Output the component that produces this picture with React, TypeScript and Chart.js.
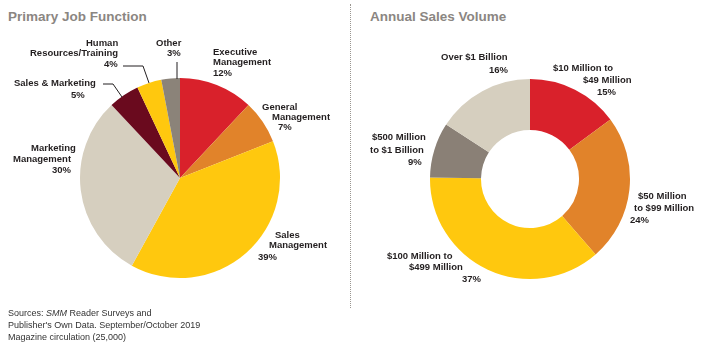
import React, { useEffect, useRef } from "react";
import { Chart, registerables } from "chart.js";

Chart.register(...registerables);

// ---- Data ----
const jobCategories = [
  "Executive Management",
  "General Management",
  "Sales Management",
  "Marketing Management",
  "Sales & Marketing",
  "Human Resources/Training",
  "Other",
];
const jobValues = [12, 7, 39, 30, 5, 4, 3];
const jobColors = ["#D9212B", "#E1832A", "#FFC80E", "#D6CFBF", "#6A0A1E", "#FFC80E", "#8B8379"];

const salesCategories = [
  "$10 Million to $49 Million",
  "$50 Million to $99 Million",
  "$100 Million to $499 Million",
  "$500 Million to $1 Billion",
  "Over $1 Billion",
];
const salesValues = [15, 24, 37, 9, 16];
const salesColors = ["#D9212B", "#E1832A", "#FFC80E", "#8A8076", "#D6CFBF"];

const FONT = "'Liberation Sans', Arial, sans-serif";

function Doughnut({ labels, values, colors, cutout, left, top, size }: any) {
  const ref = useRef<HTMLCanvasElement>(null);
  useEffect(() => {
    const chart = new Chart(ref.current as HTMLCanvasElement, {
      type: "doughnut",
      data: {
        labels,
        datasets: [{ data: values, backgroundColor: colors, borderWidth: 0, hoverOffset: 0 }],
      },
      options: {
        responsive: false,
        animation: false,
        cutout,
        rotation: 0,
        layout: { padding: 2 },
        plugins: { legend: { display: false }, tooltip: { enabled: false } },
        events: [],
      },
    });
    return () => chart.destroy();
  }, []);
  return (
    <canvas
      ref={ref}
      width={size}
      height={size}
      style={{ position: "absolute", left, top, width: size, height: size }}
    />
  );
}

type LineSpec = { t: string; x: number; y: number };

function Label({ lines }: { lines: LineSpec[] }) {
  return (
    <>
      {lines.map((l, i) => (
        <div
          key={i}
          style={{
            position: "absolute",
            left: l.x,
            top: l.y - 6,
            height: 12,
            lineHeight: "12px",
            fontSize: 9.5,
            fontWeight: "bold",
            color: "#231F20",
            whiteSpace: "nowrap",
          }}
        >
          {l.t}
        </div>
      ))}
    </>
  );
}

const pct = (v: number) => `${v}%`;

export default function App() {
  return (
    <div
      style={{
        position: "fixed",
        left: 0,
        top: 0,
        width: 707,
        height: 352,
        background: "#fff",
        fontFamily: FONT,
        overflow: "hidden",
      }}
    >
      {/* Titles */}
      <div style={{ position: "absolute", left: 8, top: 7, lineHeight: "20px", fontSize: 13.5, fontWeight: "bold", color: "#8B8682", whiteSpace: "nowrap" }}>
        Primary Job Function
      </div>
      <div style={{ position: "absolute", left: 370, top: 7, lineHeight: "20px", fontSize: 13.5, fontWeight: "bold", color: "#8B8682", whiteSpace: "nowrap" }}>
        Annual Sales Volume
      </div>

      {/* separator */}
      <div style={{ position: "absolute", left: 350, top: 4, height: 304, width: 0, borderLeft: "1.5px dotted #9A9690" }} />

      <Doughnut labels={jobCategories} values={jobValues} colors={jobColors} cutout={0} left={78} top={76} size={204} />
      <Doughnut labels={salesCategories} values={salesValues} colors={salesColors} cutout="49%" left={428} top={77} size={204} />

      {/* leader lines */}
      <svg width={707} height={352} style={{ position: "absolute", left: 0, top: 0 }}>
        <polyline points="123,66 143,66 149,83" fill="none" stroke="#231F20" strokeWidth={1} />
        <polyline points="177,62 177,79" fill="none" stroke="#231F20" strokeWidth={1} />
        <polyline points="103,84 113,84 122,97" fill="none" stroke="#231F20" strokeWidth={1} />
      </svg>

      {/* Left labels */}
      <Label lines={[{ t: "Human", x: 86, y: 43 }, { t: "Resources/Training", x: 30, y: 53 }, { t: pct(jobValues[5]), x: 104, y: 64 }]} />
      <Label lines={[{ t: "Other", x: 156, y: 43 }, { t: pct(jobValues[6]), x: 167, y: 53 }]} />
      <Label lines={[{ t: "Executive", x: 213, y: 52 }, { t: "Management", x: 213, y: 62 }, { t: pct(jobValues[0]), x: 213, y: 73 }]} />
      <Label lines={[{ t: "Sales & Marketing", x: 14, y: 83 }, { t: pct(jobValues[4]), x: 71, y: 95 }]} />
      <Label lines={[{ t: "General", x: 262, y: 107 }, { t: "Management", x: 272, y: 117 }, { t: pct(jobValues[1]), x: 278, y: 127 }]} />
      <Label lines={[{ t: "Marketing", x: 31, y: 148 }, { t: "Management", x: 13, y: 159 }, { t: pct(jobValues[3]), x: 52, y: 170 }]} />
      <Label lines={[{ t: "Sales", x: 275, y: 235 }, { t: "Management", x: 269, y: 245 }, { t: pct(jobValues[2]), x: 258, y: 257 }]} />

      {/* Right labels */}
      <Label lines={[{ t: "Over $1 Billion", x: 441, y: 57 }, { t: pct(salesValues[4]), x: 489, y: 70 }]} />
      <Label lines={[{ t: "$10 Million to", x: 553, y: 68 }, { t: "$49 Million", x: 583, y: 80 }, { t: pct(salesValues[0]), x: 597, y: 92 }]} />
      <Label lines={[{ t: "$500 Million", x: 372, y: 137 }, { t: "to $1 Billion", x: 370, y: 150 }, { t: pct(salesValues[3]), x: 408, y: 162 }]} />
      <Label lines={[{ t: "$50 Million", x: 638, y: 196 }, { t: "to $99 Million", x: 634, y: 208 }, { t: pct(salesValues[1]), x: 630, y: 220 }]} />
      <Label lines={[{ t: "$100 Million to", x: 387, y: 256 }, { t: "$499 Million", x: 409, y: 267 }, { t: pct(salesValues[2]), x: 462, y: 279 }]} />

      {/* Source */}
      <div style={{ position: "absolute", left: 8, top: 307, fontSize: 9, lineHeight: "12px", color: "#333" }}>
        Sources: <i>SMM</i> Reader Surveys and
        <br />
        Publisher's Own Data. September/October 2019
        <br />
        Magazine circulation (25,000)
      </div>
    </div>
  );
}
